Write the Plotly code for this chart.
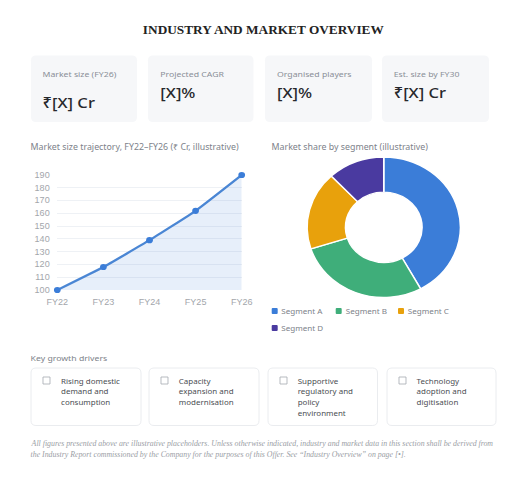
import plotly.graph_objects as go

W, H = 530, 485
STRETCH = 1.09  # the reference is horizontally stretched: its donut is wider than tall, its glyphs are wide
W0 = round(W / STRETCH)

title_text = "INDUSTRY AND MARKET OVERVIEW"
stat_labels = ["Market size (FY26)", "Projected CAGR", "Organised players", "Est. size by FY30"]
stat_values = ["₹[X] Cr", "[X]%", "[X]%", "₹[X] Cr"]
years = ["FY22", "FY23", "FY24", "FY25", "FY26"]
market_size = [100, 118, 139, 162, 190]
segments = ["Segment A", "Segment B", "Segment C", "Segment D"]
shares = [42, 28, 18, 12]
segment_colors = ["#3b7dd8", "#3fae7a", "#e8a10c", "#4a3aa0"]
drivers = [
    ["Rising domestic", "demand and", "consumption"],
    ["Capacity", "expansion and", "modernisation"],
    ["Supportive", "regulatory and", "policy", "environment"],
    ["Technology", "adoption and", "digitisation"],
]
footnote = [
    "All figures presented above are illustrative placeholders. Unless otherwise indicated, industry and market data in this section shall be derived from",
    "the Industry Report commissioned by the Company for the purposes of this Offer. See \u201cIndustry Overview\u201d on page [\u2022].",
]

UI = "Noto Sans"


def px(x):
    return x / W


def py(y):
    return 1 - y / H


def rrect(x0, y0, x1, y1, r, fill, line=None):
    path = (
        f"M {px(x0 + r)} {py(y0)} L {px(x1 - r)} {py(y0)} "
        f"Q {px(x1)} {py(y0)} {px(x1)} {py(y0 + r)} L {px(x1)} {py(y1 - r)} "
        f"Q {px(x1)} {py(y1)} {px(x1 - r)} {py(y1)} L {px(x0 + r)} {py(y1)} "
        f"Q {px(x0)} {py(y1)} {px(x0)} {py(y1 - r)} L {px(x0)} {py(y0 + r)} "
        f"Q {px(x0)} {py(y0)} {px(x0 + r)} {py(y0)} Z"
    )
    return dict(type="path", xref="paper", yref="paper", path=path, fillcolor=fill,
                line=dict(color=line or fill, width=0.8 if line else 0), layer="below")


def text(x, y, s, size, color, family=UI, anchor="left", weight=None):
    font = dict(size=size, color=color, family=family)
    if weight:
        font["weight"] = weight
    return dict(xref="paper", yref="paper", x=px(x), y=py(y), text=s, showarrow=False,
                xanchor=anchor, yanchor="middle", align=anchor, font=font,
                borderpad=0, borderwidth=0)


shapes = []
annotations = [text(263.5, 30, f"<b>{title_text}</b>", 12.2, "#222222", "Liberation Serif", "center")]

stat_boxes = [(31, 137), (148, 253.5), (265, 372), (382, 489)]
value_y = [102, 92, 92, 92]
for (x0, x1), lab, val, vy in zip(stat_boxes, stat_labels, stat_values, value_y):
    shapes.append(rrect(x0, 55.5, x1, 122, 5, "#f6f7f9"))
    annotations.append(text(x0 + 12, 73, lab, 8.0, "#8a8f98"))
    annotations.append(text(x0 + 12, vy, val, 15.2, "#26282c", weight=500))

annotations.append(text(31, 146, "Market size trajectory, FY22\u2013FY26 (\u20b9 Cr, illustrative)", 8.1, "#7d828a"))
annotations.append(text(271.5, 146, "Market share by segment (illustrative)", 8.1, "#7d828a"))
annotations.append(text(31, 357, "Key growth drivers", 8.0, "#7d828a"))

driver_boxes = [(31, 141), (149, 259), (268, 377.5), (387, 496)]
for (x0, x1), lines in zip(driver_boxes, drivers):
    shapes.append(rrect(x0, 368, x1, 425.5, 5, "#ffffff", "#e6e8ec"))
    shapes.append(dict(type="rect", xref="paper", yref="paper", x0=px(x0 + 12), x1=px(x0 + 19),
                       y0=py(384), y1=py(377), line=dict(color="#a9adb4", width=0.8), fillcolor="#ffffff"))
    for i, ln in enumerate(lines):
        annotations.append(text(x0 + 29.7, 380.5 + i * 10.7, ln, 7.3, "#4a4d52"))

for i, ln in enumerate(footnote):
    annotations.append(text(31, 444 + i * 11, f"<i>{ln}</i>", 7.2, "#9a9ea5", "Liberation Serif"))

legend_pos = [(271.7, 311), (335.7, 311), (398, 311), (271.7, 328)]
for (lx, ly), name, col in zip(legend_pos, segments, segment_colors):
    shapes.append(rrect(lx, ly - 3, lx + 6, ly + 3, 1, col))
    annotations.append(text(lx + 10, ly, name, 7.4, "#7d828a"))

fig = go.Figure()
fig.add_trace(go.Scatter(x=years, y=market_size, mode="lines", fill="tozeroy",
                         fillcolor="rgba(59,125,216,0.12)",
                         line=dict(color="rgba(0,0,0,0)", width=0, shape="spline", smoothing=0.35),
                         cliponaxis=True, showlegend=False, hoverinfo="skip"))
fig.add_trace(go.Scatter(x=years, y=market_size, mode="lines+markers",
                         line=dict(color="#4a86d4", width=2.2, shape="spline", smoothing=0.35),
                         marker=dict(size=6.2, color="#3b7dd8"),
                         cliponaxis=False, showlegend=False))
fig.add_trace(go.Pie(labels=segments, values=shares, sort=False, direction="clockwise", rotation=0,
                     hole=0.5, textinfo="none",
                     marker=dict(colors=segment_colors, line=dict(color="#ffffff", width=1.4)),
                     domain=dict(x=[px(307), px(460.5)], y=[py(297.5), py(157)]), showlegend=False))

fig.update_layout(
    width=W0, height=H, margin=dict(l=0, r=0, t=0, b=0, autoexpand=False),
    paper_bgcolor="#ffffff", plot_bgcolor="rgba(0,0,0,0)",
    shapes=shapes, annotations=annotations, showlegend=False,
    xaxis=dict(type="category", domain=[px(57.3), px(241.7)], range=[0, 4], showgrid=False, zeroline=False,
               showline=False, ticks="", ticklabelstandoff=6,
               tickfont=dict(size=8.3, color="#a3a6ab", family="Liberation Sans")),
    yaxis=dict(domain=[py(290), py(175)], range=[100, 190], dtick=10, gridcolor="#eef1f5", gridwidth=1,
               zeroline=False, showline=False, ticks="", ticklabelstandoff=6,
               tickfont=dict(size=8.3, color="#a3a6ab", family="Liberation Sans")),
    font=dict(family=UI),
)

stretch_js = (
    "document.body.style.margin='0';document.body.style.overflow='hidden';"
    "var g=document.querySelector('.plotly-graph-div');"
    f"g.style.transformOrigin='0 0';g.style.transform='scaleX({W / W0})';"
)
fig.write_html("out.html", post_script=stretch_js, config=dict(displayModeBar=False))
